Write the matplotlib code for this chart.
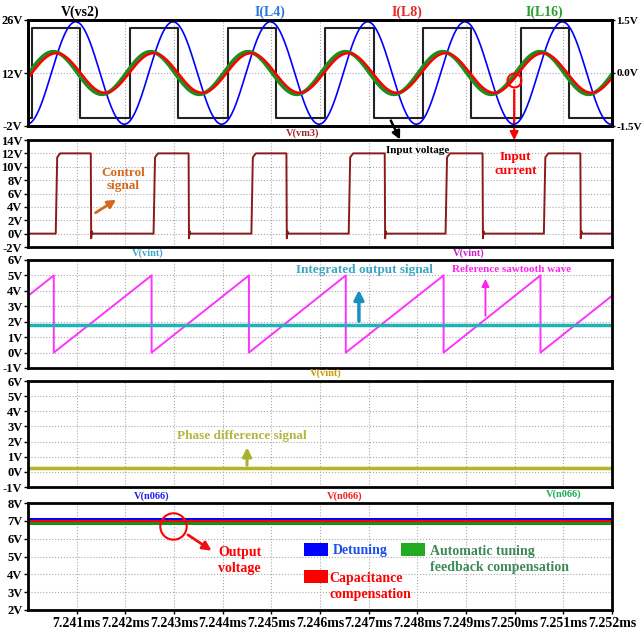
import numpy as np
import matplotlib.pyplot as plt
from matplotlib.patches import Rectangle

plt.rcParams['font.family'] = ['Liberation Serif', 'DejaVu Serif']
plt.rcParams['font.weight'] = 'bold'

# time in microseconds after 7.240 ms
t_end = 12.0
xtick_pos = [1, 2, 3, 4, 5, 6, 7, 8, 9, 10, 11, 12]
xtick_labels = ['7.241ms', '7.242ms', '7.243ms', '7.244ms', '7.245ms', '7.246ms',
                '7.247ms', '7.248ms', '7.249ms', '7.250ms', '7.251ms', '7.252ms']

# V(vs2): square drive voltage
vs2_rise = [0.09, 2.09, 4.10, 6.10, 8.11, 10.12]
vs2_fall = [1.07, 3.09, 5.10, 7.10, 9.11, 11.12]
vs2_high = 24.0

# inductor currents: amplitude (A) and time of first peak (us)
cur_names = ['I(L4)', 'I(L8)', 'I(L16)']
cur_amp = [1.45, 0.56, 0.60]
cur_peak = [0.98, 0.58, 0.52]
cur_period = 2.0

# V(vm3): control pulses
vm3_rise = [0.57, 2.58, 4.59, 6.59, 8.58, 10.60]
vm3_fall = [1.29, 3.30, 5.31, 7.33, 9.34, 11.35]
vm3_high = 12.0

# V(vint): sawtooth reference and integrator output
saw_reset = [0.53, 2.54, 4.54, 6.53, 8.54, 10.53]
saw_top = 5.0
saw_first, saw_last = 3.67, 3.68
vint_level = 1.78
phase_level = 0.25

# V(n066): output voltage for the three cases
n066_levels = [7.10, 7.00, 6.90]
case_names = ['Detuning', 'Capacitance\ncompensation', 'Automatic tuning\nfeedback compensation']


def square(rise, fall, hi):
    x, y = [0.0], [0.0]
    for r, f in zip(rise, fall):
        x += [r, r, f, f]
        y += [0.0, hi, hi, 0.0]
    return x + [t_end], y + [0.0]


def pulse(rise, fall, hi):
    # slightly slanted rising edge, small ringing after the falling edge
    x, y = [0.0], [0.0]
    for r, f in zip(rise, fall):
        x += [r, r + 0.03, r + 0.09, f, f + 0.008, f + 0.02, f + 0.035]
        y += [0.0, hi * 0.95, hi, hi, -0.7, 0.35, 0.0]
    return x + [t_end], y + [0.0]


def sawtooth(resets, top, first, last):
    x, y = [0.0], [first]
    for r in resets:
        x += [r, r]
        y += [top, 0.0]
    return x + [t_end], y + [last]


W, H = 644, 639
fig = plt.figure(figsize=(W / 100, H / 100), dpi=100)
left, right = 28, 612
rows = [(20, 126), (140, 247), (260, 368), (381, 487), (503, 610)]
axes = []
for top, bot in rows:
    ax = fig.add_axes([left / W, 1 - bot / H, (right - left) / W, (bot - top) / H])
    axes.append(ax)
ax1, ax2, ax3, ax4, ax5 = axes


def style(ax, lo, hi, ticks, labels):
    ax.set_xlim(0, t_end)
    ax.set_ylim(lo, hi)
    ax.set_yticks(ticks)
    ax.set_yticklabels(labels)
    ax.set_xticks(xtick_pos)
    ax.tick_params(axis='y', direction='out', length=3, width=1, labelsize=9, pad=1)
    ax.tick_params(axis='x', length=0, labelbottom=False)
    for s in ax.spines.values():
        s.set_linewidth(2.0)
    ax.grid(True, color='#aaaaaa', linestyle=':', linewidth=0.8)
    ax.set_axisbelow(True)


style(ax1, -2, 26, [-2, 12, 26], ['-2V', '12V', '26V'])
style(ax2, -2, 14, list(range(-2, 15, 2)), ['%dV' % v for v in range(-2, 15, 2)])
style(ax3, -1, 6, list(range(-1, 7)), ['%dV' % v for v in range(-1, 7)])
style(ax4, -1, 6, list(range(-1, 7)), ['%dV' % v for v in range(-1, 7)])
style(ax5, 2, 8, list(range(2, 9)), ['%dV' % v for v in range(2, 9)])
ax5.tick_params(axis='x', length=3, width=1, direction='out', labelbottom=True, labelsize=10, pad=2)
ax5.set_xticklabels(xtick_labels)

# --- panel 1: drive voltage and inductor currents
x, y = square(vs2_rise, vs2_fall, vs2_high)
ax1.plot(x, y, color='#222222', lw=1.5)
ax1r = ax1.twinx()
ax1r.set_xlim(0, t_end)
ax1r.set_ylim(-1.5, 1.5)
ax1r.set_yticks([-1.5, 0.0, 1.5])
ax1r.set_yticklabels(['-1.5V', '0.0V', '1.5V'])
ax1r.tick_params(axis='y', direction='out', length=2, width=1, labelsize=8, pad=1)
for s in ax1r.spines.values():
    s.set_linewidth(2.0)
t = np.linspace(0, t_end, 1500)
for k, lw, col in [(0, 1.2, '#0000ff'), (2, 2.8, '#1e8c1e'), (1, 1.8, '#ff0000')]:
    ax1r.plot(t, cur_amp[k] * np.cos(2 * np.pi * (t - cur_peak[k]) / cur_period), color=col, lw=lw)

tx = ax1.get_xaxis_transform()
ax1.text(1.07, 1.075, 'V(vs2)', transform=tx, ha='center', va='center', fontsize=10, color='black')
for name, xp, col in zip(cur_names, [4.97, 7.78, 10.61], ['#2a78e0', '#e02a2a', '#2aa02a']):
    ax1.text(xp, 1.075, name, transform=tx, ha='center', va='center', fontsize=10, color=col)

# --- panel 2: control signal
x, y = pulse(vm3_rise, vm3_fall, vm3_high)
ax2.plot(x, y, color='#8b1a1a', lw=1.4)
ax2.text(5.65, 1.065, 'V(vm3)', transform=ax2.get_xaxis_transform(), ha='center', va='center',
         fontsize=7.5, color='#9b2a2a')
ax2.text(1.96, 8.1, 'Control\nsignal', ha='center', va='center', fontsize=9.5, color='#d2691e',
         linespacing=1.1)
ax2.annotate('', xy=(1.86, 5.3), xytext=(1.34, 2.9),
             arrowprops=dict(arrowstyle='-|>', color='#d2691e', lw=2, mutation_scale=12))
ax2.text(8.0, 12.5, 'Input voltage', ha='center', va='center', fontsize=8, color='black')
ax2.annotate('', xy=(7.67, 13.7), xycoords=ax2.transData, xytext=(7.43, 0.1), textcoords=ax1.transData,
             arrowprops=dict(arrowstyle='-|>', color='black', lw=1.8, mutation_scale=12),
             annotation_clip=False)
ax1r.plot([9.99], [-0.2], 'o', ms=10, mfc='none', mec='red', mew=1.5)
ax2.annotate('', xy=(9.99, 13.55), xycoords=ax2.transData, xytext=(9.99, -0.4), textcoords=ax1r.transData,
             arrowprops=dict(arrowstyle='-|>', color='red', lw=1.6, mutation_scale=12),
             annotation_clip=False)
ax2.text(10.02, 10.4, 'Input\ncurrent', ha='center', va='center', fontsize=9.5, color='red',
         linespacing=1.2)

# --- panel 3: sawtooth reference and integrator output
x, y = sawtooth(saw_reset, saw_top, saw_first, saw_last)
ax3.plot(x, y, color='#ff33ff', lw=1.4)
ax3.axhline(vint_level, color='#20b2b8', lw=2.5)
tx3 = ax3.get_xaxis_transform()
ax3.text(2.47, 1.065, 'V(vint)', transform=tx3, ha='center', va='center', fontsize=7.5, color='#40a8cc')
ax3.text(9.05, 1.065, 'V(vint)', transform=tx3, ha='center', va='center', fontsize=7.5, color='#cc22cc')
ax3.text(6.92, 5.35, 'Integrated output signal', ha='center', va='center', fontsize=9.5, color='#3aa6c6')
ax3.annotate('', xy=(6.80, 4.25), xytext=(6.80, 1.85),
             arrowprops=dict(arrowstyle='-|>', color='#1a90c0', lw=2.5, mutation_scale=14))
ax3.text(9.94, 5.4, 'Reference sawtooth wave', ha='center', va='center', fontsize=8, color='#ff22ee')
ax3.annotate('', xy=(9.40, 4.95), xytext=(9.40, 2.2),
             arrowprops=dict(arrowstyle='-|>', color='#ff22ee', lw=1.3, mutation_scale=11))

# --- panel 4: phase difference
ax4.axhline(phase_level, color='#b5b528', lw=2.5)
ax4.text(6.12, 1.07, 'V(vint)', transform=ax4.get_xaxis_transform(), ha='center', va='center',
         fontsize=7.5, color='#c89b00')
ax4.text(4.4, 2.4, 'Phase difference signal', ha='center', va='center', fontsize=9.5, color='#b0b640')
ax4.annotate('', xy=(4.5, 1.8), xytext=(4.5, phase_level),
             arrowprops=dict(arrowstyle='-|>', color='#a8b030', lw=2.2, mutation_scale=13))

# --- panel 5: output voltage
case_colors = ['#0000ff', '#ff0000', '#1e8c1e']
for level, col in zip(n066_levels, case_colors):
    ax5.axhline(level, color=col, lw=2.2)
tx5 = ax5.get_xaxis_transform()
for xp, yp, col in zip([2.55, 6.5, 11.0], [1.065, 1.065, 1.085], ['#2222ee', '#ee2222', '#22aa55']):
    ax5.text(xp, yp, 'V(n066)', transform=tx5, ha='center', va='center', fontsize=7.5, color=col)
ax5.plot([2.97], [6.7], 'o', ms=19, mfc='none', mec='red', mew=1.5)
ax5.annotate('', xy=(3.82, 5.24), xytext=(3.24, 6.3),
             arrowprops=dict(arrowstyle='-|>', color='#ee1111', lw=2, mutation_scale=13))
ax5.text(4.35, 4.78, 'Output\nvoltage', ha='center', va='center', fontsize=10, color='red',
         linespacing=1.25)

# legend boxes
box_w, box_h = 0.49, 0.73
box_xy = [(5.67, 5.03), (5.67, 3.51), (7.67, 5.03)]
text_xy = [(6.26, 5.36), (6.20, 3.32), (8.25, 4.83)]
text_cols = ['#1a50ee', '#ff0000', '#3d8a55']
for (bx, by), (lx, ly), col, tcol, name in zip(box_xy, text_xy, ['#0000ff', '#ff0000', '#22aa22'],
                                               text_cols, case_names):
    ax5.add_patch(Rectangle((bx, by), box_w, box_h, facecolor=col, edgecolor='none'))
    ax5.text(lx, ly, name, ha='left', va='center', fontsize=10, color=tcol, linespacing=1.3)

fig.savefig('out.png', dpi=100)
